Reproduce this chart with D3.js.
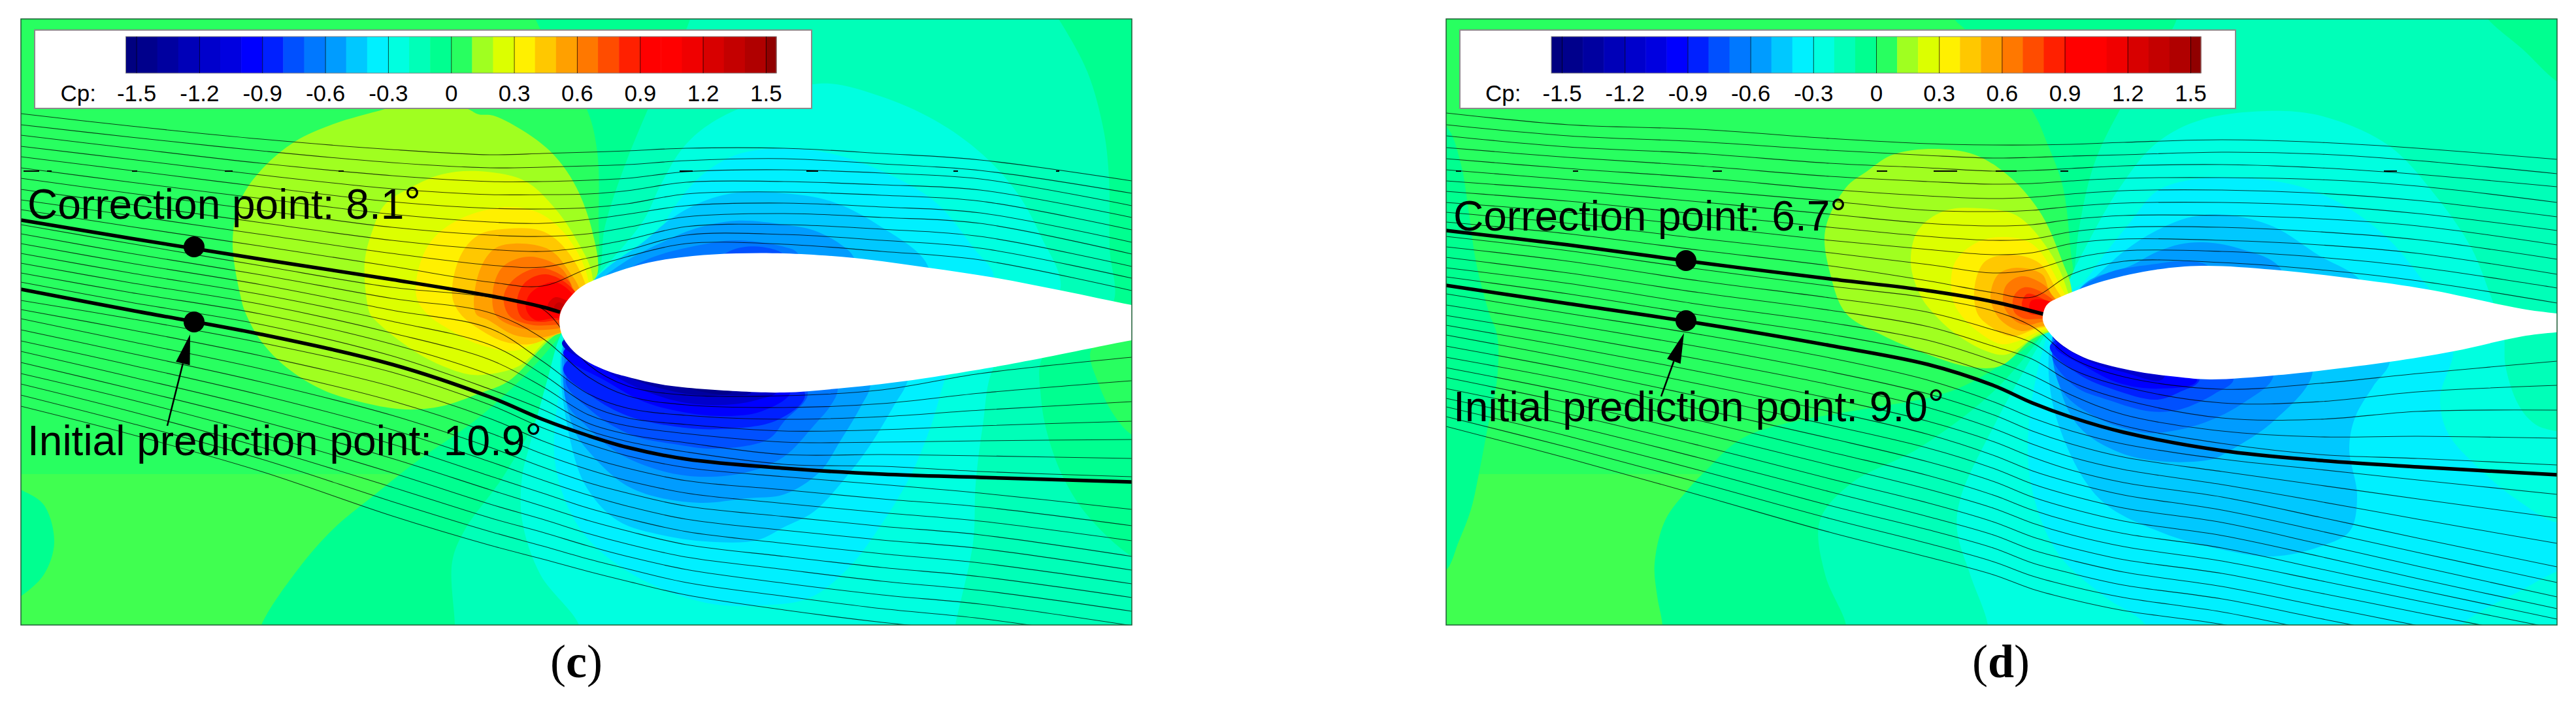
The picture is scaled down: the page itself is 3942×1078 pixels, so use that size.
<!DOCTYPE html>
<html>
<head>
<meta charset="utf-8">
<script src="https://cdn.jsdelivr.net/npm/d3@7"></script>
<style>
  html, body { margin: 0; background: #fff; }
  svg { display: block; }
  text { font-family: "Liberation Sans", Arial, sans-serif; fill: #000; }
</style>
</head>
<body>
<script>
// colour levels of the Cp legend
const cpTicks = [-1.5, -1.2, -0.9, -0.6, -0.3, 0, 0.3, 0.6, 0.9, 1.2, 1.5];
const cpEdges = [-1.55, -1.5, -1.4, -1.3, -1.2, -1.1, -1, -0.9, -0.8, -0.7, -0.6, -0.5, -0.4, -0.3, -0.2, -0.1, 0,
  0.1, 0.2, 0.3, 0.4, 0.5, 0.6, 0.7, 0.8, 0.9, 1, 1.1, 1.2, 1.3, 1.4, 1.5, 1.55];
const cpColors = ['#000080', '#00008c', '#0000a0', '#0000b8', '#0000cc', '#0000e0', '#0000ff', '#0020ff', '#0050ff',
  '#0078ff', '#009cff', '#00c8ff', '#00f0ff', '#00ffe0', '#00ffb8', '#00ff90', '#28ff60', '#a0ff20', '#dcff00',
  '#fff000', '#ffc800', '#ffa000', '#ff7800', '#ff4c00', '#ff2000', '#ff0000', '#ff0000', '#f00000', '#d80000',
  '#c40000', '#b00000', '#900000'];

// panel (c): filled contours, outermost first, as [Cp, outline]
const contoursC = [
  [-0.05, [[800, 0], [819, 29], [827, 45], [898, 167], [914, 233], [916, 330], [912, 410], [880, 445], [875, 490], [858, 513], [811, 567], [732, 640], [637, 707], [574, 757], [510, 810], [455, 873], [400, 957], [390, 1000], [1800, 1000], [1800, 0]]],
  [-0.05, [[20, 745], [32, 750], [67, 773], [83, 830], [67, 880], [32, 913], [20, 920]]],
  [-0.15, [[1060, 0], [1056, 29], [992, 166], [950, 270], [925, 350], [915, 420], [885, 445], [875, 490], [858, 520], [830, 620], [770, 730], [712, 810], [692, 860], [696, 957], [696, 1000], [1800, 1000], [1800, 880], [1732, 852], [1664, 789], [1629, 735], [1604, 669], [1593, 609], [1595, 548], [1650, 500], [1703, 464], [1698, 380], [1697, 272], [1689, 200], [1664, 110], [1620, 29], [1600, 0]]],
  [-0.25, [[1127, 168], [1072, 200], [1040, 233], [1009, 287], [985, 337], [922, 413], [890, 445], [875, 490], [858, 513], [838, 580], [811, 680], [799, 730], [799, 797], [827, 880], [886, 957], [890, 1000], [1455, 1000], [1462, 957], [1489, 831], [1493, 741], [1504, 651], [1521, 562], [1580, 500], [1623, 440], [1593, 362], [1557, 296], [1503, 236], [1432, 185], [1343, 146], [1254, 128]]],
  [-0.35, [[1521, 425], [1490, 380], [1432, 310], [1350, 262], [1271, 235], [1200, 227], [1127, 237], [1072, 270], [1030, 320], [1000, 370], [960, 400], [900, 440], [875, 490], [858, 580], [850, 713], [890, 813], [969, 880], [1080, 923], [1167, 927], [1240, 915], [1300, 868], [1350, 801], [1393, 729], [1425, 651], [1448, 575], [1480, 500]]],
  [-0.45, [[1421, 410], [1343, 344], [1271, 308], [1200, 296], [1127, 295], [1072, 310], [1024, 337], [985, 370], [929, 410], [890, 450], [875, 490], [858, 547], [874, 680], [898, 747], [945, 797], [1016, 820], [1095, 830], [1159, 827], [1200, 807], [1246, 783], [1296, 729], [1332, 681], [1368, 621], [1389, 583], [1400, 490]]],
  [-0.55, [[1307, 395], [1286, 374], [1246, 353], [1200, 344], [1127, 338], [1064, 350], [1009, 373], [953, 403], [890, 455], [875, 490], [860, 550], [878, 657], [906, 697], [953, 740], [1001, 760], [1072, 770], [1143, 763], [1200, 757], [1254, 723], [1286, 675], [1318, 621], [1332, 590], [1320, 490]]],
  [-0.65, [[1221, 388], [1200, 378], [1127, 368], [1072, 375], [1001, 393], [953, 417], [895, 460], [875, 490], [866, 613], [898, 653], [945, 693], [1009, 720], [1072, 730], [1143, 723], [1200, 699], [1246, 651], [1271, 621], [1282, 595], [1250, 490]]],
  [-0.75, [[1200, 392], [1165, 378], [1120, 383], [1100, 400], [1150, 450]]],
  [-0.75, [[866, 580], [906, 630], [969, 667], [1032, 680], [1095, 687], [1175, 673], [1200, 645], [1236, 600], [1050, 480]]],
  [-0.85, [[862, 563], [906, 607], [961, 637], [1032, 653], [1103, 657], [1190, 643], [1232, 603], [1050, 480]]],
  [-0.95, [[862, 540], [930, 585], [985, 615], [1040, 630], [1103, 637], [1165, 630], [1210, 598], [1050, 480]]],
  [-1.15, [[860, 525], [930, 570], [990, 600], [1050, 617], [1110, 620], [1160, 612], [1190, 598], [1050, 480]]],
  [-1.35, [[862, 515], [915, 555], [980, 585], [1050, 603], [1110, 605], [1150, 600], [1050, 480]]],
  [-1.45, [[862, 505], [915, 545], [970, 575], [1050, 595], [1120, 600], [1050, 480]]],
  [0.05, [[1671, 533], [1682, 590], [1707, 639], [1732, 666], [1800, 700], [1800, 500]]],
  [0.15, [[650, 150], [716, 167], [732, 175], [755, 177], [811, 207], [850, 240], [882, 287], [906, 353], [914, 420], [890, 450], [900, 490], [850, 513], [779, 583], [732, 603], [676, 622], [621, 627], [558, 617], [494, 597], [439, 563], [400, 523], [376, 480], [368, 453], [356, 370], [368, 307], [400, 260], [451, 217], [510, 190], [589, 167]]],
  [0.25, [[732, 262], [676, 267], [629, 287], [589, 313], [570, 353], [558, 403], [566, 480], [574, 490], [613, 523], [661, 553], [716, 573], [748, 573], [795, 560], [846, 513], [900, 490], [906, 420], [882, 367], [850, 320], [803, 277]]],
  [0.35, [[779, 317], [716, 330], [668, 360], [645, 397], [637, 453], [653, 480], [692, 507], [732, 527], [787, 537], [835, 517], [900, 490], [898, 420], [866, 360], [827, 327]]],
  [0.45, [[779, 350], [732, 360], [704, 393], [692, 453], [704, 480], [732, 503], [771, 523], [811, 527], [850, 513], [900, 490], [894, 430], [858, 373], [827, 353]]],
  [0.55, [[787, 373], [755, 382], [732, 420], [728, 480], [747, 490], [787, 513], [827, 517], [854, 510], [900, 490], [886, 440], [874, 420], [842, 383]]],
  [0.65, [[811, 393], [771, 407], [755, 440], [759, 483], [799, 503], [854, 503], [900, 490], [878, 443], [858, 410]]],
  [0.75, [[827, 410], [787, 427], [771, 453], [779, 483], [811, 497], [854, 497], [900, 490], [878, 450], [870, 430]]],
  [0.85, [[835, 420], [803, 433], [791, 463], [799, 487], [827, 493], [854, 490], [900, 490], [874, 440]]],
  [0.95, [[846, 432], [811, 450], [805, 473], [819, 490], [850, 487], [900, 490], [868, 442]]],
  [1.25, [[850, 455], [838, 468], [845, 478], [860, 480], [880, 470]]],
  [1.35, [[855, 463], [848, 470], [855, 476], [870, 472]]]
];

const airfoilC = [[856, 490], [860, 473], [877, 450], [893, 437], [927, 422], [993, 402], [1060, 392], [1127, 388], [1200, 388], [1307, 395],
  [1421, 410], [1521, 425], [1625, 445], [1732, 467], [1800, 478], [1800, 510], [1732, 521], [1596, 548], [1521, 562], [1389, 583],
  [1282, 595], [1200, 601], [1127, 599], [1020, 590], [960, 577], [927, 567], [893, 550], [873, 533], [860, 513]];

// panel (c): streamlines sampled at shared x columns
const streamXC = [32, 200, 400, 600, 750, 830, 900, 960, 1050, 1200, 1350, 1500, 1732];
const upperLinesC = [
  [174, 193, 213, 229, 237, 235, 233, 231, 227, 227, 235, 245, 277],
  [191, 210, 231, 249, 257, 256, 254, 252, 246, 243, 251, 261, 296],
  [207, 227, 250, 269, 278, 278, 276, 273, 263, 260, 265, 274, 315],
  [224, 244, 268, 289, 298, 298, 297, 292, 279, 278, 283, 291, 333],
  [240, 261, 286, 309, 319, 320, 318, 312, 297, 294, 299, 308, 352],
  [257, 279, 304, 328, 340, 342, 336, 328, 315, 311, 317, 326, 371],
  [273, 296, 322, 348, 360, 362, 358, 348, 332, 327, 333, 342, 389],
  [290, 313, 341, 368, 382, 385, 378, 367, 347, 344, 351, 362, 408],
  [306, 330, 359, 388, 406, 409, 395, 383, 360, 359, 368, 380, 426],
  [321, 347, 377, 408, 432, 438, 411, 393, 373, 374, 385, 398, 445]
];
const middleLinesC = [
  [344, 373, 407, 440, 455, 473, 558, 591, 605, 606, 597, 572, 547],
  [358, 388, 421, 457, 479, 518, 577, 606, 620, 624, 618, 602, 583],
  [373, 403, 436, 475, 503, 553, 603, 625, 636, 642, 638, 628, 615],
  [388, 418, 451, 492, 528, 573, 620, 640, 650, 660, 658, 652, 645],
  [403, 433, 466, 510, 551, 592, 635, 652, 664, 677, 677, 675, 673],
  [418, 448, 481, 527, 574, 610, 648, 665, 678, 696, 696, 698, 702],
  [432, 463, 497, 545, 596, 627, 659, 676, 692, 711, 714, 722, 730]
];
const lowerLinesC = [
  [460, 488, 525, 570, 620, 655, 680, 698, 716, 730, 742, 755, 780],
  [474, 505, 545, 592, 641, 675, 700, 717, 736, 750, 764, 776, 805],
  [488, 523, 565, 614, 663, 695, 719, 736, 755, 771, 785, 798, 828],
  [505, 541, 585, 636, 685, 715, 739, 755, 775, 791, 806, 819, 852],
  [522, 559, 605, 658, 707, 735, 758, 775, 795, 812, 827, 840, 873],
  [538, 577, 625, 680, 729, 755, 778, 794, 814, 832, 848, 862, 894],
  [555, 595, 645, 702, 750, 775, 797, 813, 834, 852, 869, 883, 915],
  [572, 612, 665, 724, 772, 795, 817, 833, 853, 872, 890, 904, 936],
  [588, 630, 685, 746, 793, 815, 836, 852, 872, 893, 911, 925, 958],
  [605, 648, 703, 768, 814, 836, 856, 871, 892, 913, 932, 947, 980],
  [622, 665, 722, 790, 835, 856, 875, 890, 911, 934, 953, 968, 1000]
];
const correctionXC = [32, 200, 400, 600, 750, 830, 857];
const correctionYC = [337, 365, 397, 428, 453, 470, 478];
const initialYC = [443, 475, 512, 558, 608, 642, 667, 685, 703, 717, 726, 731, 738];
const dashesC = [[36, 60], [72, 79], [202, 210], [344, 356], [518, 526], [1040, 1060], [1234, 1252], [1459, 1466], [1616, 1621]];

// panel (d)
const contoursD = [
  [-0.05, [[2985, 0], [2991, 29], [3007, 45], [3109, 168], [3133, 220], [3157, 287], [3169, 387], [3173, 437], [3150, 490], [3125, 513], [3086, 543], [3007, 590], [2959, 607], [2674, 667], [2611, 720], [2580, 753], [2548, 797], [2532, 863], [2536, 913], [2544, 957], [2544, 1000], [4000, 1000], [4000, 0]]],
  [-0.05, [[2190, 180], [2216, 197], [2236, 253], [2247, 320], [2259, 403], [2279, 480], [2291, 513], [2291, 580], [2275, 663], [2263, 726], [2251, 780], [2232, 830], [2213, 873], [2190, 880]]],
  [-0.15, [[3331, 0], [3331, 29], [3244, 168], [3204, 253], [3181, 353], [3173, 420], [3160, 460], [3125, 513], [3050, 600], [2935, 687], [2833, 740], [2785, 797], [2793, 880], [2825, 957], [2825, 1000], [4000, 1000], [3960, 150], [3913, 125], [3860, 75], [3807, 29], [3790, 0]]],
  [-0.25, [[3165, 433], [3196, 370], [3244, 287], [3299, 220], [3370, 183], [3496, 170], [3568, 182], [3657, 224], [3729, 302], [3782, 380], [3811, 452], [3825, 490], [3832, 518], [3834, 560], [3854, 620], [3880, 650], [3950, 680], [4000, 1000], [3042, 1000], [3042, 957], [3015, 880], [2995, 813], [3000, 763], [3054, 647], [3125, 520], [3150, 480]]],
  [-0.35, [[3718, 443], [3711, 434], [3657, 368], [3586, 314], [3514, 284], [3425, 272], [3354, 275], [3300, 293], [3260, 340], [3220, 390], [3190, 430], [3165, 450], [3150, 480], [3133, 513], [3105, 647], [3109, 747], [3149, 847], [3220, 913], [3283, 957], [3290, 1000], [3750, 1000], [3764, 960], [3860, 903], [3913, 875], [3960, 860], [3960, 790], [3913, 800], [3860, 771], [3800, 723], [3746, 663], [3734, 609], [3754, 537], [3735, 490]]],
  [-0.45, [[3611, 428], [3550, 392], [3479, 347], [3407, 329], [3354, 332], [3300, 353], [3250, 385], [3205, 425], [3170, 455], [3150, 490], [3135, 547], [3149, 647], [3212, 763], [3307, 815], [3407, 843], [3479, 852], [3550, 837], [3596, 813], [3607, 759], [3595, 687], [3604, 639], [3632, 591], [3657, 554], [3640, 490]]],
  [-0.55, [[3489, 410], [3425, 380], [3371, 371], [3336, 374], [3300, 386], [3260, 407], [3196, 430], [3165, 465], [3150, 490], [3149, 580], [3181, 653], [3244, 693], [3315, 707], [3386, 703], [3407, 693], [3479, 645], [3539, 569], [3500, 490]]],
  [-0.65, [[3379, 407], [3336, 400], [3300, 404], [3228, 417], [3180, 445], [3150, 490], [3140, 530], [3157, 600], [3210, 640], [3268, 660], [3300, 663], [3371, 648], [3436, 615], [3479, 575], [3440, 490]]],
  [-0.75, [[3141, 540], [3173, 590], [3228, 613], [3291, 630], [3336, 627], [3389, 603], [3418, 580], [3300, 490]]],
  [-0.85, [[3137, 530], [3181, 573], [3236, 597], [3300, 612], [3336, 600], [3366, 581], [3300, 490]]],
  [-0.95, [[3145, 530], [3189, 560], [3244, 587], [3307, 595], [3362, 583], [3300, 490]]],
  [-1.15, [[3141, 513], [3190, 550], [3250, 570], [3310, 580], [3300, 490]]],
  [0.15, [[2959, 228], [2896, 237], [2856, 263], [2825, 287], [2793, 353], [2801, 420], [2825, 480], [2880, 513], [2951, 543], [3015, 562], [3062, 560], [3109, 520], [3170, 490], [3169, 437], [3157, 403], [3125, 330], [3078, 273], [3022, 237]]],
  [0.25, [[3030, 319], [2975, 323], [2935, 353], [2924, 403], [2939, 453], [2959, 480], [2991, 510], [3038, 537], [3070, 543], [3117, 513], [3170, 490], [3161, 437], [3133, 380], [3086, 330]]],
  [0.35, [[3062, 363], [3022, 373], [2991, 403], [2987, 453], [2999, 480], [3030, 510], [3062, 527], [3086, 523], [3121, 507], [3170, 490], [3149, 430], [3109, 373]]],
  [0.45, [[3078, 390], [3038, 400], [3022, 437], [3026, 480], [3046, 500], [3078, 515], [3117, 503], [3170, 490], [3145, 440], [3121, 403]]],
  [0.55, [[3086, 410], [3058, 420], [3046, 453], [3054, 480], [3070, 497], [3094, 507], [3121, 500], [3170, 490], [3137, 447], [3125, 420]]],
  [0.65, [[3094, 423], [3070, 437], [3066, 467], [3082, 490], [3101, 498], [3125, 493], [3170, 490], [3141, 453], [3129, 437]]],
  [0.75, [[3098, 440], [3082, 453], [3082, 477], [3098, 488], [3125, 488], [3170, 490], [3129, 450]]],
  [0.85, [[3102, 450], [3094, 467], [3106, 480], [3125, 483], [3170, 490], [3125, 457]]],
  [0.95, [[3109, 460], [3106, 473], [3129, 480], [3170, 490], [3141, 463]]]
];

const airfoilD = [[3126, 490], [3128, 475], [3134, 465], [3157, 453], [3220, 430], [3299, 413], [3370, 407], [3479, 413], [3611, 428], [3714, 443],
  [3860, 473], [3980, 492], [3980, 498], [3860, 515], [3754, 538], [3657, 554], [3539, 569], [3479, 575], [3382, 581], [3331, 577],
  [3260, 567], [3188, 547], [3149, 523], [3131, 502]];

const streamXD = [2213, 2400, 2600, 2800, 2950, 3050, 3110, 3170, 3250, 3400, 3550, 3700, 3913];
const upperLinesD = [
  [173, 191, 198, 212, 220, 222, 222, 221, 218, 214, 218, 227, 244],
  [191, 208, 217, 230, 238, 242, 241, 239, 237, 233, 236, 246, 266],
  [208, 225, 235, 250, 257, 262, 261, 258, 254, 252, 257, 267, 286],
  [226, 241, 254, 270, 278, 282, 281, 277, 273, 272, 275, 285, 310],
  [243, 258, 272, 290, 300, 304, 302, 297, 292, 291, 296, 307, 332],
  [260, 275, 291, 308, 322, 324, 322, 316, 311, 310, 315, 327, 353],
  [277, 291, 309, 328, 342, 346, 344, 336, 330, 330, 335, 346, 375],
  [293, 308, 328, 348, 362, 368, 366, 355, 348, 348, 355, 367, 397],
  [310, 325, 346, 368, 382, 390, 387, 373, 366, 368, 375, 388, 420],
  [325, 342, 365, 387, 405, 418, 413, 396, 384, 385, 394, 409, 441],
  [340, 358, 383, 407, 430, 448, 455, 420, 400, 402, 413, 430, 464]
];
const middleLinesD = [
  [362, 384, 412, 438, 456, 476, 500, 548, 577, 596, 587, 572, 553],
  [378, 400, 430, 456, 478, 505, 525, 565, 592, 617, 615, 600, 590],
  [394, 418, 448, 475, 500, 530, 550, 585, 612, 640, 642, 630, 628],
  [410, 434, 466, 494, 521, 552, 575, 605, 635, 660, 669, 668, 671],
  [424, 450, 482, 512, 541, 573, 598, 625, 652, 679, 696, 702, 712]
];
const lowerLinesD = [
  [450, 480, 512, 548, 582, 615, 640, 660, 680, 703, 719, 735, 757],
  [467, 497, 531, 569, 603, 635, 660, 680, 700, 722, 743, 764, 793],
  [483, 514, 550, 589, 624, 656, 680, 700, 719, 742, 768, 795, 832],
  [498, 531, 569, 610, 645, 676, 700, 720, 739, 761, 792, 824, 868],
  [513, 548, 588, 630, 665, 697, 721, 739, 758, 781, 813, 846, 892],
  [530, 565, 607, 651, 686, 717, 741, 759, 778, 800, 833, 867, 914],
  [547, 582, 626, 671, 707, 737, 761, 779, 798, 820, 852, 886, 932],
  [563, 600, 644, 692, 728, 758, 781, 799, 817, 839, 871, 903, 948],
  [578, 617, 663, 712, 749, 778, 801, 819, 837, 859, 889, 920, 963],
  [595, 634, 682, 733, 770, 799, 822, 839, 857, 878, 908, 938, 980],
  [610, 651, 701, 753, 791, 819, 842, 858, 876, 898, 928, 958, 1000],
  [623, 668, 720, 774, 811, 839, 862, 878, 896, 917, 947, 977, 1020],
  [638, 685, 739, 794, 832, 860, 882, 898, 915, 937, 967, 997, 1040],
  [653, 702, 758, 815, 853, 880, 902, 918, 935, 956, 986, 1017, 1060]
];
const correctionXD = [2213, 2400, 2600, 2800, 2950, 3050, 3127];
const correctionYD = [353, 375, 402, 427, 445, 462, 481];
const initialYD = [437, 465, 495, 529, 558, 590, 617, 639, 662, 690, 705, 715, 727];
const dashesD = [[2228, 2236], [2407, 2415], [2621, 2635], [2872, 2888], [2959, 2995], [3054, 3086], [3153, 3165], [3648, 3668]];

const width = 3942;
const height = 1078;
const dashY = 262;
const patchTop = 726;
const patchColor = '#40ff50';

const cpColor = d3.scaleThreshold().domain(cpEdges.slice(1, -1)).range(cpColors);

const svg = d3.select('body').append('svg')
  .attr('width', width)
  .attr('height', height);

const panels = [
  { id: 'c', caption: 'c', frame: [32, 1732], legend: [53, 1242], bar: [192.5, 1188], cpX: 92.5,
    contours: contoursC, airfoil: airfoilC, streamX: streamXC,
    lines: [...upperLinesC, ...middleLinesC, ...lowerLinesC],
    correctionX: correctionXC, correctionY: correctionYC, initialY: initialYC, dashes: dashesC,
    correctionDot: [297, 378], initialDot: [297, 493], arrowTip: [291, 512], arrowTail: [256, 652],
    correctionLabel: ['Correction point: 8.1', 42, 335], initialLabel: ['Initial prediction point: 10.9', 42, 697], captionX: 882 },
  { id: 'd', caption: 'd', frame: [2213, 3913], legend: [2234, 3421], bar: [2374, 3368], cpX: 2273,
    contours: contoursD, airfoil: airfoilD, streamX: streamXD,
    lines: [...upperLinesD, ...middleLinesD, ...lowerLinesD],
    correctionX: correctionXD, correctionY: correctionYD, initialY: initialYD, dashes: dashesD,
    correctionDot: [2580, 399], initialDot: [2580, 491], arrowTip: [2577, 510], arrowTail: [2542, 607],
    correctionLabel: ['Correction point: 6.7', 2224, 353], initialLabel: ['Initial prediction point: 9.0', 2224, 645], captionX: 3062 }
];

panels.forEach(drawPanel);

function drawPanel(p) {
  const x = d3.scaleLinear().domain(p.frame).range(p.frame);
  const y = d3.scaleLinear().domain([29, 957]).range([29, 957]);
  const blob = d3.line().x(d => x(d[0])).y(d => y(d[1])).curve(d3.curveCatmullRomClosed.alpha(0.5));
  const stream = d3.line().x(d => x(d[0])).y(d => y(d[1])).curve(d3.curveCatmullRom.alpha(0.5));

  const g = svg.append('g');
  g.append('clipPath').attr('id', 'clip-' + p.id)
    .append('rect')
    .attr('x', x(p.frame[0])).attr('y', y(29))
    .attr('width', x(p.frame[1]) - x(p.frame[0])).attr('height', y(957) - y(29));

  const field = g.append('g').attr('clip-path', `url(#clip-${p.id})`);
  field.append('rect')
    .attr('x', x(p.frame[0])).attr('y', y(29))
    .attr('width', x(p.frame[1]) - x(p.frame[0])).attr('height', y(957) - y(29))
    .attr('fill', cpColor(0.05));
  field.append('rect')
    .attr('x', x(p.frame[0])).attr('y', y(patchTop))
    .attr('width', x(p.frame[1]) - x(p.frame[0])).attr('height', y(957) - y(patchTop))
    .attr('fill', patchColor);

  field.selectAll('path.band').data(p.contours).join('path')
    .attr('class', 'band')
    .attr('d', d => blob(d[1]))
    .attr('fill', d => cpColor(d[0]));

  // streamlines
  field.selectAll('path.stream').data(p.lines).join('path')
    .attr('class', 'stream')
    .attr('d', d => stream(d.map((v, i) => [p.streamX[i], v])))
    .attr('fill', 'none')
    .attr('stroke', '#000')
    .attr('stroke-opacity', 0.75)
    .attr('stroke-width', 1.1);

  field.selectAll('line.dash').data(p.dashes).join('line')
    .attr('class', 'dash')
    .attr('x1', d => x(d[0])).attr('x2', d => x(d[1]))
    .attr('y1', y(dashY)).attr('y2', y(dashY))
    .attr('stroke', '#000')
    .attr('stroke-width', 2);

  // the two marked streamlines
  field.append('path')
    .attr('d', stream(p.correctionX.map((v, i) => [v, p.correctionY[i]])))
    .attr('fill', 'none').attr('stroke', '#000').attr('stroke-width', 5.5);
  field.append('path')
    .attr('d', stream(p.streamX.map((v, i) => [v, p.initialY[i]])))
    .attr('fill', 'none').attr('stroke', '#000').attr('stroke-width', 5.5);

  field.append('path')
    .attr('d', blob(p.airfoil))
    .attr('fill', '#fff');

  g.append('rect')
    .attr('x', x(p.frame[0])).attr('y', y(29))
    .attr('width', x(p.frame[1]) - x(p.frame[0])).attr('height', y(957) - y(29))
    .attr('fill', 'none').attr('stroke', '#1c5c34').attr('stroke-width', 1.5);

  // markers and arrow
  g.selectAll('circle').data([p.correctionDot, p.initialDot]).join('circle')
    .attr('cx', d => x(d[0])).attr('cy', d => y(d[1])).attr('r', 16).attr('fill', '#000');

  const ang = Math.atan2(p.arrowTail[1] - p.arrowTip[1], p.arrowTail[0] - p.arrowTip[0]);
  const bx = x(p.arrowTip[0]) + 46 * Math.cos(ang);
  const by = y(p.arrowTip[1]) + 46 * Math.sin(ang);
  g.append('line')
    .attr('x1', bx).attr('y1', by)
    .attr('x2', x(p.arrowTail[0])).attr('y2', y(p.arrowTail[1]))
    .attr('stroke', '#000').attr('stroke-width', 2.5);
  g.append('path')
    .attr('d', d3.line()([
      [x(p.arrowTip[0]), y(p.arrowTip[1])],
      [bx - 11 * Math.sin(ang), by + 11 * Math.cos(ang)],
      [bx + 11 * Math.sin(ang), by - 11 * Math.cos(ang)]
    ]) + 'Z')
    .attr('fill', '#000');

  // legend box and colour bar
  g.append('rect')
    .attr('x', p.legend[0]).attr('y', 46)
    .attr('width', p.legend[1] - p.legend[0]).attr('height', 120)
    .attr('fill', '#fff').attr('stroke', '#8a8a8a').attr('stroke-width', 2);

  const barX = d3.scaleLinear().domain([-1.55, 1.55]).range(p.bar);
  const barTop = 56;
  const barBottom = 112;
  g.append('g').selectAll('rect')
    .data(cpColors).join('rect')
    .attr('x', (d, i) => barX(cpEdges[i]))
    .attr('y', barTop)
    .attr('width', (d, i) => barX(cpEdges[i + 1]) - barX(cpEdges[i]) + 0.5)
    .attr('height', barBottom - barTop)
    .attr('fill', d => d);
  g.append('rect')
    .attr('x', p.bar[0]).attr('y', barTop)
    .attr('width', p.bar[1] - p.bar[0]).attr('height', barBottom - barTop)
    .attr('fill', 'none').attr('stroke', '#808080').attr('stroke-width', 1);

  const axis = g.append('g')
    .attr('transform', `translate(0, ${barBottom})`)
    .call(d3.axisBottom(barX).tickValues(cpTicks).tickFormat(String).tickSize(-(barBottom - barTop)));
  axis.select('.domain').remove();
  axis.selectAll('.tick line').attr('stroke', '#000').attr('stroke-opacity', 0.7).attr('stroke-width', 1);
  axis.selectAll('.tick text')
    .attr('y', 43).attr('dy', 0)
    .style('font-family', '"Liberation Sans", Arial, sans-serif')
    .style('font-size', '35px');

  g.append('text').attr('x', p.cpX).attr('y', 155)
    .style('font-size', '35px').text('Cp:');

  // annotations
  [p.correctionLabel, p.initialLabel].forEach(l => {
    const t = g.append('text').attr('x', l[1]).attr('y', l[2]).style('font-size', '64px').text(l[0]);
    t.append('tspan').attr('dy', -4).text('°');
  });

  // caption
  const cap = g.append('text')
    .attr('x', p.captionX).attr('y', 1037)
    .attr('text-anchor', 'middle')
    .style('font-family', '"Liberation Serif", "Times New Roman", serif')
    .style('font-size', '72px');
  cap.append('tspan').text('(');
  cap.append('tspan').style('font-weight', 'bold').text(p.caption);
  cap.append('tspan').text(')');
}
</script>
</body>
</html>
